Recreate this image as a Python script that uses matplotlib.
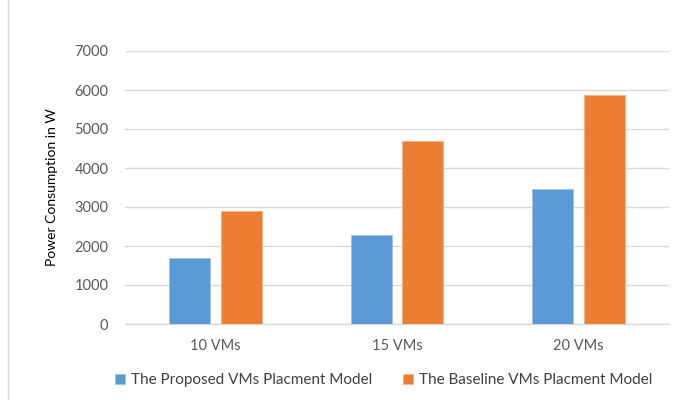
import matplotlib.pyplot as plt
import numpy as np
from matplotlib.lines import Line2D

categories = ['10 VMs', '15 VMs', '20 VMs']
proposed = [1700, 2270, 3460]
baseline = [2900, 4700, 5870]
series_names = ['The Proposed VMs Placment Model', 'The Baseline VMs Placment Model']
yticks = [0, 1000, 2000, 3000, 4000, 5000, 6000, 7000]

plt.rcParams['font.family'] = ['Lato', 'DejaVu Sans']

fig = plt.figure(figsize=(6.74, 4.0), dpi=100)
ax = fig.add_axes([0.1855, 0.19, 0.807, 0.6825])

x = np.arange(len(categories))
w = 0.226
off = 0.142
ax.bar(x - off, proposed, w, color='#5B9BD5', edgecolor='#9dc3e6', linewidth=0.6,
       label=series_names[0], zorder=3)
ax.bar(x + off, baseline, w, color='#ED7D31', edgecolor='#f4b183', linewidth=0.6,
       label=series_names[1], zorder=3)

ax.set_xlim(-0.5, 2.5)
ax.set_ylim(0, 7000)
ax.set_yticks(yticks)
ax.set_xticks(x)
ax.set_xticklabels(categories)
ax.tick_params(axis='both', length=0, colors='#595959', labelsize=10.5)
ax.tick_params(axis='y', pad=12)
ax.tick_params(axis='x', pad=11)
ax.yaxis.grid(True, color='#d9d9d9', linewidth=1.0, zorder=0)
for s in ['top', 'right', 'left']:
    ax.spines[s].set_visible(False)
ax.spines['bottom'].set_color('#d9d9d9')
ax.spines['bottom'].set_linewidth(1.0)

ax.set_ylabel('Power Consumption in W', fontsize=10, color='black', labelpad=12)

fig.legend(loc='center', bbox_to_anchor=(0.569, 0.05), ncol=2, frameon=False,
           fontsize=11, handlelength=0.65, handleheight=0.65, handletextpad=0.4,
           columnspacing=2.0, labelcolor='#404040')

# thin border line at the left edge
fig.add_artist(Line2D([8 / 674, 8 / 674], [0, 1], transform=fig.transFigure,
                      color='#d9d9d9', linewidth=1.0))

fig.savefig('out.png', dpi=100)
